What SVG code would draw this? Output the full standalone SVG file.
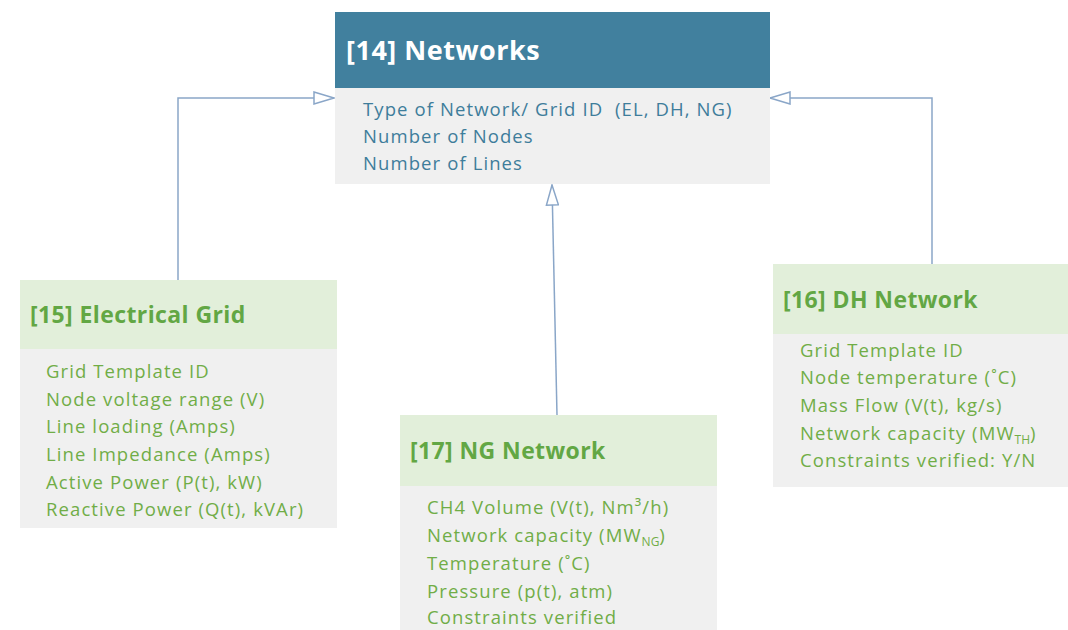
<svg xmlns="http://www.w3.org/2000/svg" width="1068" height="630" viewBox="0 0 1068 630">
<defs>
<style>
.body{fill:#f0f0f0}
.hblue{fill:#41809e}
.hgreen{fill:#e2efda}
.t14{font-family:"Open Sans","Liberation Sans",sans-serif;font-weight:bold;font-size:27px;letter-spacing:0.5px;fill:#ffffff}
.tg{font-family:"Open Sans","Liberation Sans",sans-serif;font-weight:bold;font-size:23px;letter-spacing:0.4px;fill:#62a744}
.ib{font-family:"Open Sans","Liberation Sans",sans-serif;font-size:18.5px;letter-spacing:1.1px;fill:#3e7d9b}
.ig{font-family:"Open Sans","Liberation Sans",sans-serif;font-size:18.5px;letter-spacing:1.1px;fill:#70ad47}
.sub{font-size:12px;letter-spacing:0}
.conn{fill:none;stroke:#8aa6c8;stroke-width:1.5}
</style>
<marker id="tri" viewBox="0 0 22 14" refX="21" refY="7" markerWidth="22" markerHeight="14" markerUnits="userSpaceOnUse" orient="auto">
<path d="M1,1 L21,7 L1,13 Z" fill="#ffffff" stroke="#8aa6c8" stroke-width="1.5"/>
</marker>
</defs>
<rect width="1068" height="630" fill="#ffffff"/>

<g id="connectors">
<path class="conn" d="M178,280 L178,98 L334,98" marker-end="url(#tri)"/>
<path class="conn" d="M932,264 L932,98 L770,98" marker-end="url(#tri)"/>
<path class="conn" d="M557,415 L552,185" marker-end="url(#tri)"/>
</g>

<g id="node14">
<rect class="hblue" x="335" y="12" width="435" height="76"/>
<rect class="body" x="335" y="88" width="435" height="96"/>
<text class="t14" x="346" y="60">[14] Networks</text>
<text class="ib" x="363" y="116">Type of Network/ Grid ID&#160; (EL, DH, NG)</text>
<text class="ib" x="363" y="143">Number of Nodes</text>
<text class="ib" x="363" y="170">Number of Lines</text>
</g>

<g id="node15">
<rect class="hgreen" x="20" y="280" width="317" height="69"/>
<rect class="body" x="20" y="349" width="317" height="179"/>
<text class="tg" x="30" y="323">[15] Electrical Grid</text>
<text class="ig" x="46" y="378">Grid Template ID</text>
<text class="ig" x="46" y="406">Node voltage range (V)</text>
<text class="ig" x="46" y="433">Line loading (Amps)</text>
<text class="ig" x="46" y="461">Line Impedance (Amps)</text>
<text class="ig" x="46" y="489">Active Power (P(t), kW)</text>
<text class="ig" x="46" y="516">Reactive Power (Q(t), kVAr)</text>
</g>

<g id="node16">
<rect class="hgreen" x="773" y="264" width="295" height="70"/>
<rect class="body" x="773" y="334" width="295" height="153"/>
<text class="tg" x="783" y="308">[16] DH Network</text>
<text class="ig" x="800" y="357">Grid Template ID</text>
<text class="ig" x="800" y="384">Node temperature (˚C)</text>
<text class="ig" x="800" y="412">Mass Flow (V(t), kg/s)</text>
<text class="ig" x="800" y="440">Network capacity (MW<tspan class="sub" dy="4">TH</tspan><tspan dy="-4">)</tspan></text>
<text class="ig" x="800" y="467">Constraints verified: Y/N</text>
</g>

<g id="node17">
<rect class="hgreen" x="400" y="415" width="317" height="71"/>
<rect class="body" x="400" y="486" width="317" height="144"/>
<text class="tg" x="410" y="459">[17] NG Network</text>
<text class="ig" x="427" y="514">CH4 Volume (V(t), Nm³/h)</text>
<text class="ig" x="427" y="542">Network capacity (MW<tspan class="sub" dy="4">NG</tspan><tspan dy="-4">)</tspan></text>
<text class="ig" x="427" y="570">Temperature (˚C)</text>
<text class="ig" x="427" y="598">Pressure (p(t), atm)</text>
<text class="ig" x="427" y="624">Constraints verified</text>
</g>
</svg>
